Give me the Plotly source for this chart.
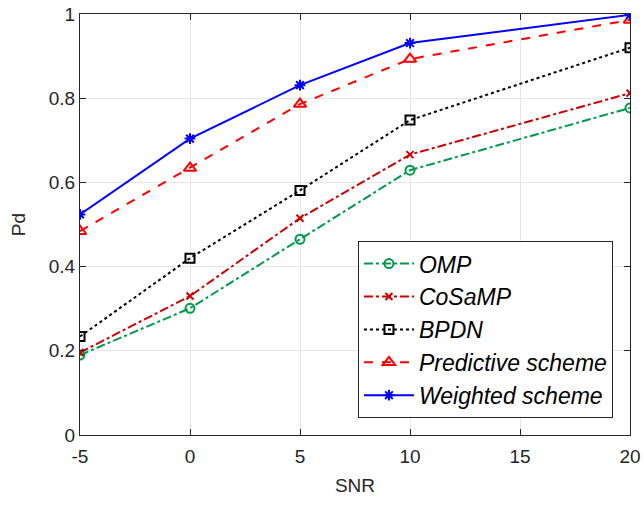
import plotly.graph_objects as go

snr = [-5, 0, 5, 10, 20]
omp = [0.19, 0.301, 0.465, 0.629, 0.777]
cosamp = [0.196, 0.330, 0.515, 0.666, 0.812]
bpdn = [0.234, 0.420, 0.581, 0.748, 0.920]
predictive = [0.484, 0.634, 0.786, 0.893, 0.986]
weighted = [0.524, 0.704, 0.831, 0.931, 0.998]

x_ticks = [-5, 0, 5, 10, 15, 20]
x_tick_text = ["-5", "0", "5", "10", "15", "20"]
y_ticks = [0, 0.2, 0.4, 0.6, 0.8, 1]
y_tick_text = ["0", "0.2", "0.4", "0.6", "0.8", "1"]

series = [
    ("OMP", omp, "#00994d", "dashdot", "circle-open", 9),
    ("CoSaMP", cosamp, "#cc0000", "dashdot", "x-thin-open", 7),
    ("BPDN", bpdn, "#000000", "dot", "square-open", 9),
    ("Predictive scheme", predictive, "#ff0000", "dash", "triangle-up-open", 11),
    ("Weighted scheme", weighted, "#0000ff", "solid", "asterisk-open", 9),
]

fig = go.Figure()
for name, ys, color, dash, sym, size in series:
    fig.add_trace(go.Scatter(
        x=snr, y=ys, name=name, mode="lines+markers",
        line=dict(color=color, width=2, dash=dash),
        marker=dict(symbol=sym, size=size, color=color,
                    line=dict(color=color, width=2)),
    ))

axis_common = dict(
    showline=True, linecolor="#262626", linewidth=1, mirror="ticks",
    ticks="inside", ticklen=6, tickcolor="#262626",
    showgrid=True, gridcolor="#e6e6e6", gridwidth=1, zeroline=False,
    automargin=False,
    tickfont=dict(family="Liberation Sans, Arial, sans-serif", size=19, color="#262626"),
)

fig.update_layout(
    width=644, height=506,
    margin=dict(l=80, r=14, t=14, b=71),
    paper_bgcolor="white", plot_bgcolor="white",
    font=dict(family="Liberation Sans, Arial, sans-serif", color="#262626"),
    xaxis=dict(range=[-5, 20], tickvals=x_ticks, ticktext=x_tick_text,
               ticklabelstandoff=4,
               title=dict(text="SNR", font=dict(size=19, color="#262626"), standoff=12),
               **axis_common),
    yaxis=dict(range=[0, 1], tickvals=y_ticks, ticktext=y_tick_text,
               ticklabelstandoff=0,
               title=dict(text="Pd", font=dict(size=19, color="#262626"), standoff=18),
               **axis_common),
    legend=dict(
        x=0.969, y=0.04, xanchor="right", yanchor="bottom",
        bordercolor="#262626", borderwidth=1, bgcolor="white",
        font=dict(family="Liberation Sans, Arial, sans-serif", size=23,
                  color="#000000", style="italic"),
        tracegroupgap=0, itemwidth=50,
    ),
)

fig.write_html("out.html")
